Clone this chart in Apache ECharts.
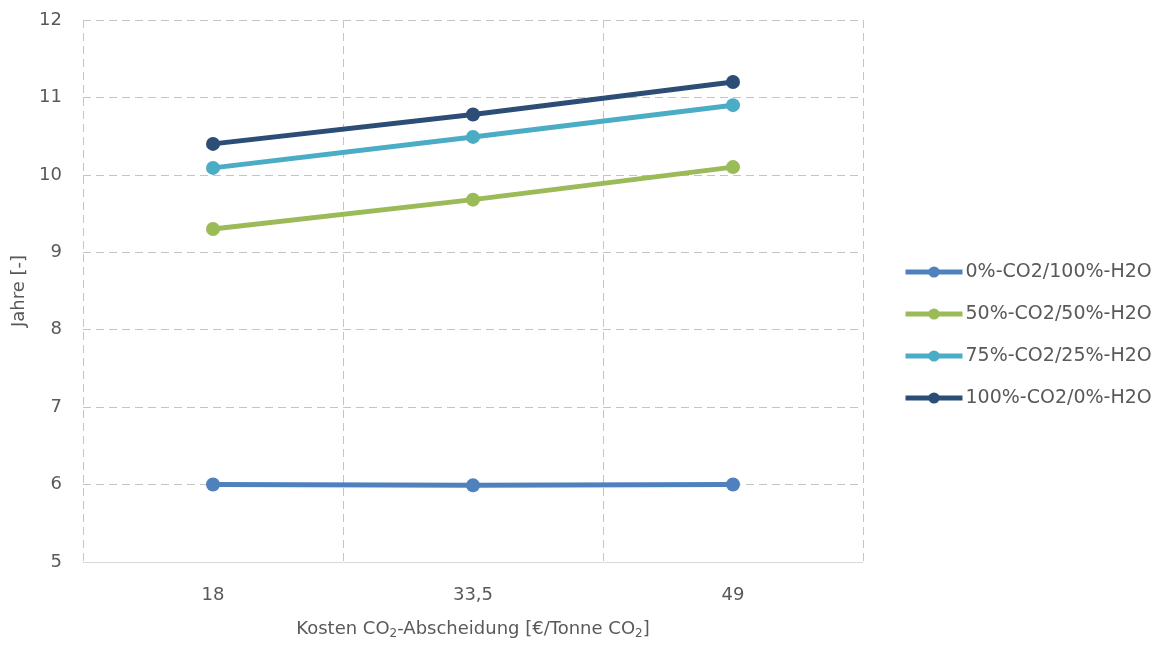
<!DOCTYPE html>
<html><head><meta charset="utf-8">
<script src="https://cdn.jsdelivr.net/npm/echarts@6/dist/echarts.min.js"></script>
<style>html,body{margin:0;padding:0;background:#fff}#c{width:1164px;height:645px}</style>
</head><body><div id="c"></div>
<script>
const categories = ['18', '33,5', '49'];
const seriesNames = ['0%-CO2/100%-H2O', '50%-CO2/50%-H2O', '75%-CO2/25%-H2O', '100%-CO2/0%-H2O'];
const s0 = [6.0, 5.99, 6.0];
const s50 = [9.3, 9.68, 10.1];
const s75 = [10.09, 10.49, 10.9];
const s100 = [10.4, 10.78, 11.2];
const colors = ['#4F81BD', '#9BBB59', '#4BACC6', '#2C4D75'];
const yTicks = [5, 6, 7, 8, 9, 10, 11, 12];

const font = 'DejaVu Sans';
const txt = '#595959';
const chart = echarts.init(document.getElementById('c'));
const data = [s0, s50, s75, s100];
chart.setOption({
  animation: false,
  textStyle: {fontFamily: font},
  grid: {left: 83, right: 301, top: 20, bottom: 75},
  legend: {
    orient: 'vertical', left: 898, top: 257, itemWidth: 57, itemHeight: 14, itemGap: 22,
    lineStyle: {width: 5},
    textStyle: {fontFamily: font, fontSize: 19, lineHeight: 20, color: txt, padding: [0, 0, 0, -2]},
    data: seriesNames
  },
  xAxis: {
    type: 'category', data: categories, boundaryGap: true,
    axisLine: {lineStyle: {color: '#d9d9d9', width: 1}},
    axisTick: {show: false},
    axisLabel: {fontFamily: font, fontSize: 18, color: txt, margin: 24},
    splitLine: {show: true, lineStyle: {color: '#c4c4c4', type: [8, 5], width: 1}},
    name: 'Kosten CO{s|2}-Abscheidung [€/Tonne CO{s|2}]',
    nameLocation: 'middle', nameGap: 56,
    nameTextStyle: {fontFamily: font, fontSize: 18, color: txt,
      rich: {s: {fontFamily: font, fontSize: 12, color: txt, verticalAlign: 'bottom', padding: [10, 0, 0, 0]}}}
  },
  yAxis: {
    type: 'value', min: yTicks[0], max: yTicks[yTicks.length - 1], interval: 1,
    axisLine: {show: false}, axisTick: {show: false},
    axisLabel: {fontFamily: font, fontSize: 18, color: txt, margin: 21},
    splitLine: {lineStyle: {color: '#c4c4c4', type: [8, 5], width: 1}},
    name: 'Jahre [-]', nameLocation: 'middle', nameGap: 53, nameRotate: 90,
    nameTextStyle: {fontFamily: font, fontSize: 18, color: txt}
  },
  series: seriesNames.map((n, i) => ({
    name: n, type: 'line', data: data[i], symbol: 'circle', symbolSize: 14,
    lineStyle: {width: 5, color: colors[i]}, itemStyle: {color: colors[i]}
  }))
});
</script></body></html>
